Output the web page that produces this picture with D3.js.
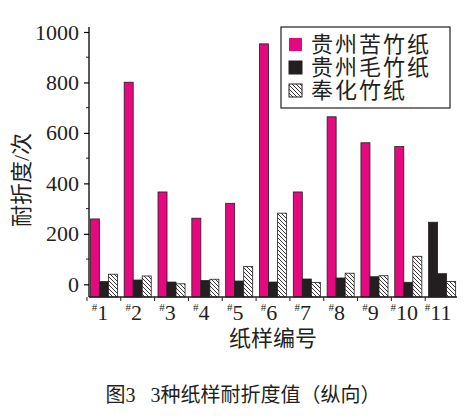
<!DOCTYPE html>
<html><head><meta charset="utf-8">
<script src="https://cdn.jsdelivr.net/npm/d3@7"></script>
<style>body{margin:0;background:#fff}</style>
</head><body><div id="graph"></div>
<script>
const samples = ["1","2","3","4","5","6","7","8","9","10","11"]
const seriesNames = ["贵州苦竹纸", "贵州毛竹纸", "奉化竹纸"]
const kuzhu = [259, 801, 366, 262, 321, 953, 366, 664, 561, 546, 246]
const maozhu = [11, 17, 9, 15, 13, 9, 21, 25, 30, 8, 42]
const fenghua = [40, 33, 2, 20, 71, 282, 7, 44, 34, 111, 11]
const yTicks = [0, 200, 400, 600, 800, 1000]

const width = 471, height = 419
const font = "'Liberation Serif','Noto Sans CJK SC',serif"
const pink = "#e5087f", dark = "#231f20"

const svg = d3.select("#graph").append("svg")
    .attr("width", width).attr("height", height)
    .style("font-family", font)

const defs = svg.append("defs")
const pat = defs.append("pattern").attr("id", "hatch")
    .attr("patternUnits", "userSpaceOnUse").attr("width", 4).attr("height", 4)
pat.append("rect").attr("width", 4).attr("height", 4).attr("fill", "#fff")
pat.append("path").attr("d", "M-1,-1 L5,5 M-1,3 L1,5 M3,-1 L5,1")
    .attr("stroke", dark).attr("stroke-width", 0.9)

const x = d3.scaleBand().domain(samples).range([89, 457]).paddingInner(0.2).paddingOuter(0.04)
const xs = d3.scaleBand().domain([0, 1, 2]).range([0, x.bandwidth()])
const y = d3.scaleLinear().domain([-85, 1070]).range([297, 6])
y.domain([-50, 1000 + 50 * 5 / 50.4 * 0]) // placeholder
// calibrate: 0 at 284.3, 1000 at 32
const y0 = d3.scaleLinear().domain([0, 1000]).range([284.3, 32])
const yTop = y0.invert(27), yBot = y0.invert(297)
y.domain([yBot, yTop]).range([297, 27])

const data = []
samples.forEach((s, i) => {
    [kuzhu, maozhu, fenghua].forEach((arr, k) => data.push({s, i, k, v: arr[i]}))
})
const fillOf = d => d.k === 2 ? "url(#hatch)" : (d.k === 1 || d.i === 10 ? dark : pink)

svg.append("g").selectAll("rect").data(data).join("rect")
    .attr("x", d => x(d.s) + xs(d.k))
    .attr("width", xs.bandwidth())
    .attr("y", d => y(d.v))
    .attr("height", d => y(0) > y(d.v) ? y(yBot) - y(d.v) : 0)
    .attr("fill", fillOf)
    .attr("stroke", dark).attr("stroke-width", 0.8)

// axes
const ax = svg.append("g").attr("transform", "translate(89,0)")
    .call(d3.axisLeft(y).tickValues(yTicks).tickSize(5).tickFormat(d3.format("d")))
ax.call(g => g.select(".domain").attr("d", `M0,${y(yBot)}V${y(yTop)}`).attr("stroke-width", 1.3))
ax.selectAll("text").attr("font-size", 22).attr("font-family", font).attr("fill", dark).attr("dx", "-2")
ax.selectAll("line").attr("stroke-width", 1.2)
svg.append("g").selectAll("line").data(d3.range(100, 1100, 200)).join("line")
    .attr("x1", 86).attr("x2", 89).attr("y1", d => y(d)).attr("y2", d => y(d))
    .attr("stroke", dark)

const bx = svg.append("g").attr("transform", `translate(0,${y(yBot)})`)
bx.append("line").attr("x1", 89).attr("x2", 457).attr("stroke", dark).attr("stroke-width", 1.3)
bx.selectAll("line.t").data(samples).join("line").attr("class", "t")
    .attr("x1", d => x(d) - x.step() * 0.1).attr("x2", d => x(d) - x.step() * 0.1)
    .attr("y2", 4).attr("stroke", dark)
const lab = bx.selectAll("text").data(samples).join("text")
    .attr("x", d => x(d) + x.bandwidth() / 2 - 4).attr("y", 23)
    .attr("text-anchor", "middle").attr("font-size", 22).attr("fill", dark)
lab.append("tspan").attr("font-size", 11).attr("dy", -9).text("#")
lab.append("tspan").attr("dy", 9).text(d => d)

svg.append("text").attr("transform", "translate(29,180) rotate(-90)")
    .attr("text-anchor", "middle").attr("font-size", 22).attr("fill", dark).text("耐折度/次")
svg.append("text").attr("x", 273).attr("y", 346).attr("text-anchor", "middle")
    .attr("font-size", 22).attr("fill", dark).text("纸样编号")
svg.append("text").attr("x", 243).attr("y", 402).attr("text-anchor", "middle")
    .attr("font-size", 20).attr("fill", dark).attr("xml:space", "preserve").text("图3   3种纸样耐折度值（纵向）")

// legend
const lg = svg.append("g")
lg.append("rect").attr("x", 281).attr("y", 27).attr("width", 169).attr("height", 81)
    .attr("fill", "#fff").attr("stroke", dark).attr("stroke-width", 1.2)
seriesNames.forEach((n, k) => {
    const yy = 44 + k * 23
    lg.append("rect").attr("x", 289).attr("y", yy - 6).attr("width", 13).attr("height", 13)
        .attr("fill", k === 0 ? pink : k === 1 ? dark : "url(#hatch)").attr("stroke", k ? dark : "none")
    lg.append("text").attr("x", 311).attr("y", yy + 8).attr("font-size", 22).attr("letter-spacing", 2)
        .attr("fill", dark).text(n)
})
</script></body></html>
